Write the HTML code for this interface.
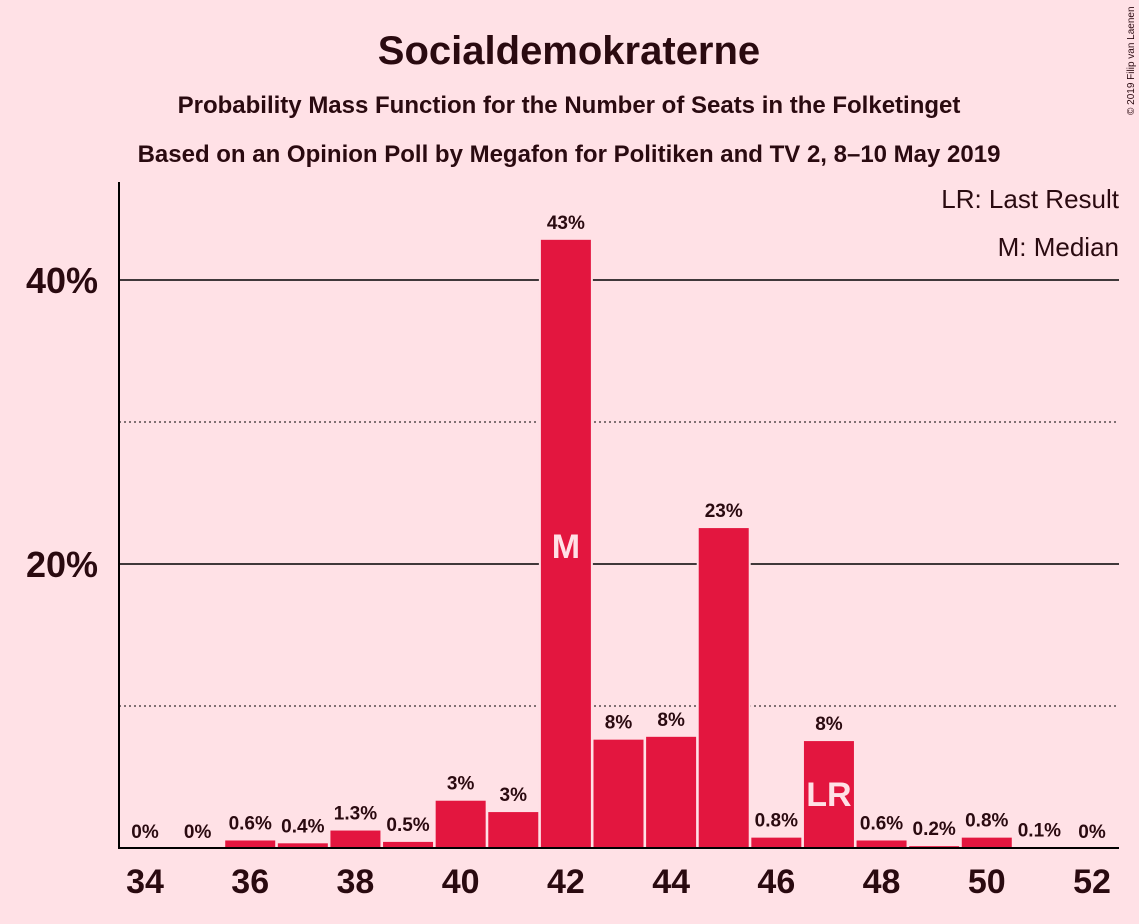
<!DOCTYPE html>
<html><head><meta charset="utf-8">
<style>
html,body{margin:0;padding:0;background:#FFE1E6;}
svg{display:block;font-family:"Liberation Sans",sans-serif;}
</style></head>
<body>
<svg id="chart" width="1139" height="924" viewBox="0 0 1139 924">
<rect width="1139" height="924" fill="#FFE1E6"/>
<text x="569" y="64" text-anchor="middle" font-size="40" font-weight="bold" fill="#2a0a10">Socialdemokraterne</text>
<text x="569" y="113" text-anchor="middle" font-size="24" font-weight="bold" fill="#2a0a10">Probability Mass Function for the Number of Seats in the Folketinget</text>
<text x="569" y="162" text-anchor="middle" font-size="24" font-weight="bold" fill="#2a0a10">Based on an Opinion Poll by Megafon for Politiken and TV 2, 8–10 May 2019</text>
<text x="1134" y="115" font-size="10" fill="#2a0a10" transform="rotate(-90 1134 115)">© 2019 Filip van Laenen</text>
<g id="grid"></g>
<g id="bars"></g>
<g id="labels"></g>
<line x1="119" y1="182" x2="119" y2="849" stroke="#000" stroke-width="2"/>
<line x1="118" y1="848" x2="1119" y2="848" stroke="#000" stroke-width="2"/>
<g id="xticks"></g>
<g id="yticks"></g>
<text x="1119" y="208" text-anchor="end" font-size="26" fill="#2a0a10">LR: Last Result</text>
<text x="1119" y="256" text-anchor="end" font-size="26" fill="#2a0a10">M: Median</text>
</svg>
<script>
const seats=[34,35,36,37,38,39,40,41,42,43,44,45,46,47,48,49,50,51,52];
const probs=[0,0,0.6,0.4,1.3,0.5,3.4,2.6,42.9,7.7,7.9,22.6,0.8,7.6,0.6,0.2,0.8,0.1,0];
const valueLabels=["0%","0%","0.6%","0.4%","1.3%","0.5%","3%","3%","43%","8%","8%","23%","0.8%","8%","0.6%","0.2%","0.8%","0.1%","0%"];
const xTickLabels=[34,36,38,40,42,44,46,48,50,52];
const yTicks=[20,40];
const yMinor=[10,30];
const medianSeat=42;
const lastResultSeat=47;
const NS="http://www.w3.org/2000/svg";
const x=s=>145+(s-34)*(1092-145)/18;
const y=v=>848-v*14.2;
function mk(tag,attrs,parent){const e=document.createElementNS(NS,tag);for(const k in attrs)e.setAttribute(k,attrs[k]);document.getElementById(parent).appendChild(e);return e;}
yTicks.forEach(v=>{
 const l=mk('line',{x1:119,x2:1119,y1:y(v),y2:y(v),stroke:'#000','stroke-width':1.5},'grid');
 
 
 const t=mk('text',{x:98,y:y(v)+13,'text-anchor':'end','font-size':36,'font-weight':'bold',fill:'#2a0a10'},'yticks');
 t.textContent=v+'%';
 
 
});
yMinor.forEach(v=>{
 const l=mk('line',{x1:119,x2:1119,y1:y(v),y2:y(v),stroke:'#000','stroke-width':1,'stroke-dasharray':'2,3'},'grid');
 
 
});
seats.forEach((s,i)=>{
 const v=probs[i];
 if(v>0){
  const r=mk('rect',{x:x(s)-26,y:y(v),width:52,height:848-y(v),fill:'#E3163F',stroke:'#FFE1E6','stroke-width':2},'bars');
  
  
 }
 const t=mk('text',{x:x(s),y:y(v)-10,'text-anchor':'middle','font-size':19,'font-weight':'bold',fill:'#2a0a10'},'labels');
 t.textContent=valueLabels[i];
 
 
 if(s===medianSeat||s===lastResultSeat){
  const m=mk('text',{x:x(s),y:0,'text-anchor':'middle','font-size':34,'font-weight':'bold',fill:'#FFE1E6'},'labels');
  if(s===lastResultSeat)m.setAttribute('y',y(v/2)+12);
  if(s===medianSeat)m.setAttribute('y',y(20)-6);
  m.textContent=s===medianSeat?'M':'LR';
  
  
 }
});
xTickLabels.forEach(s=>{
 const t=mk('text',{x:x(s),y:893,'text-anchor':'middle','font-size':34,'font-weight':'bold',fill:'#2a0a10'},'xticks');
 t.textContent=s;
 
 
});
</script>
</body></html>
